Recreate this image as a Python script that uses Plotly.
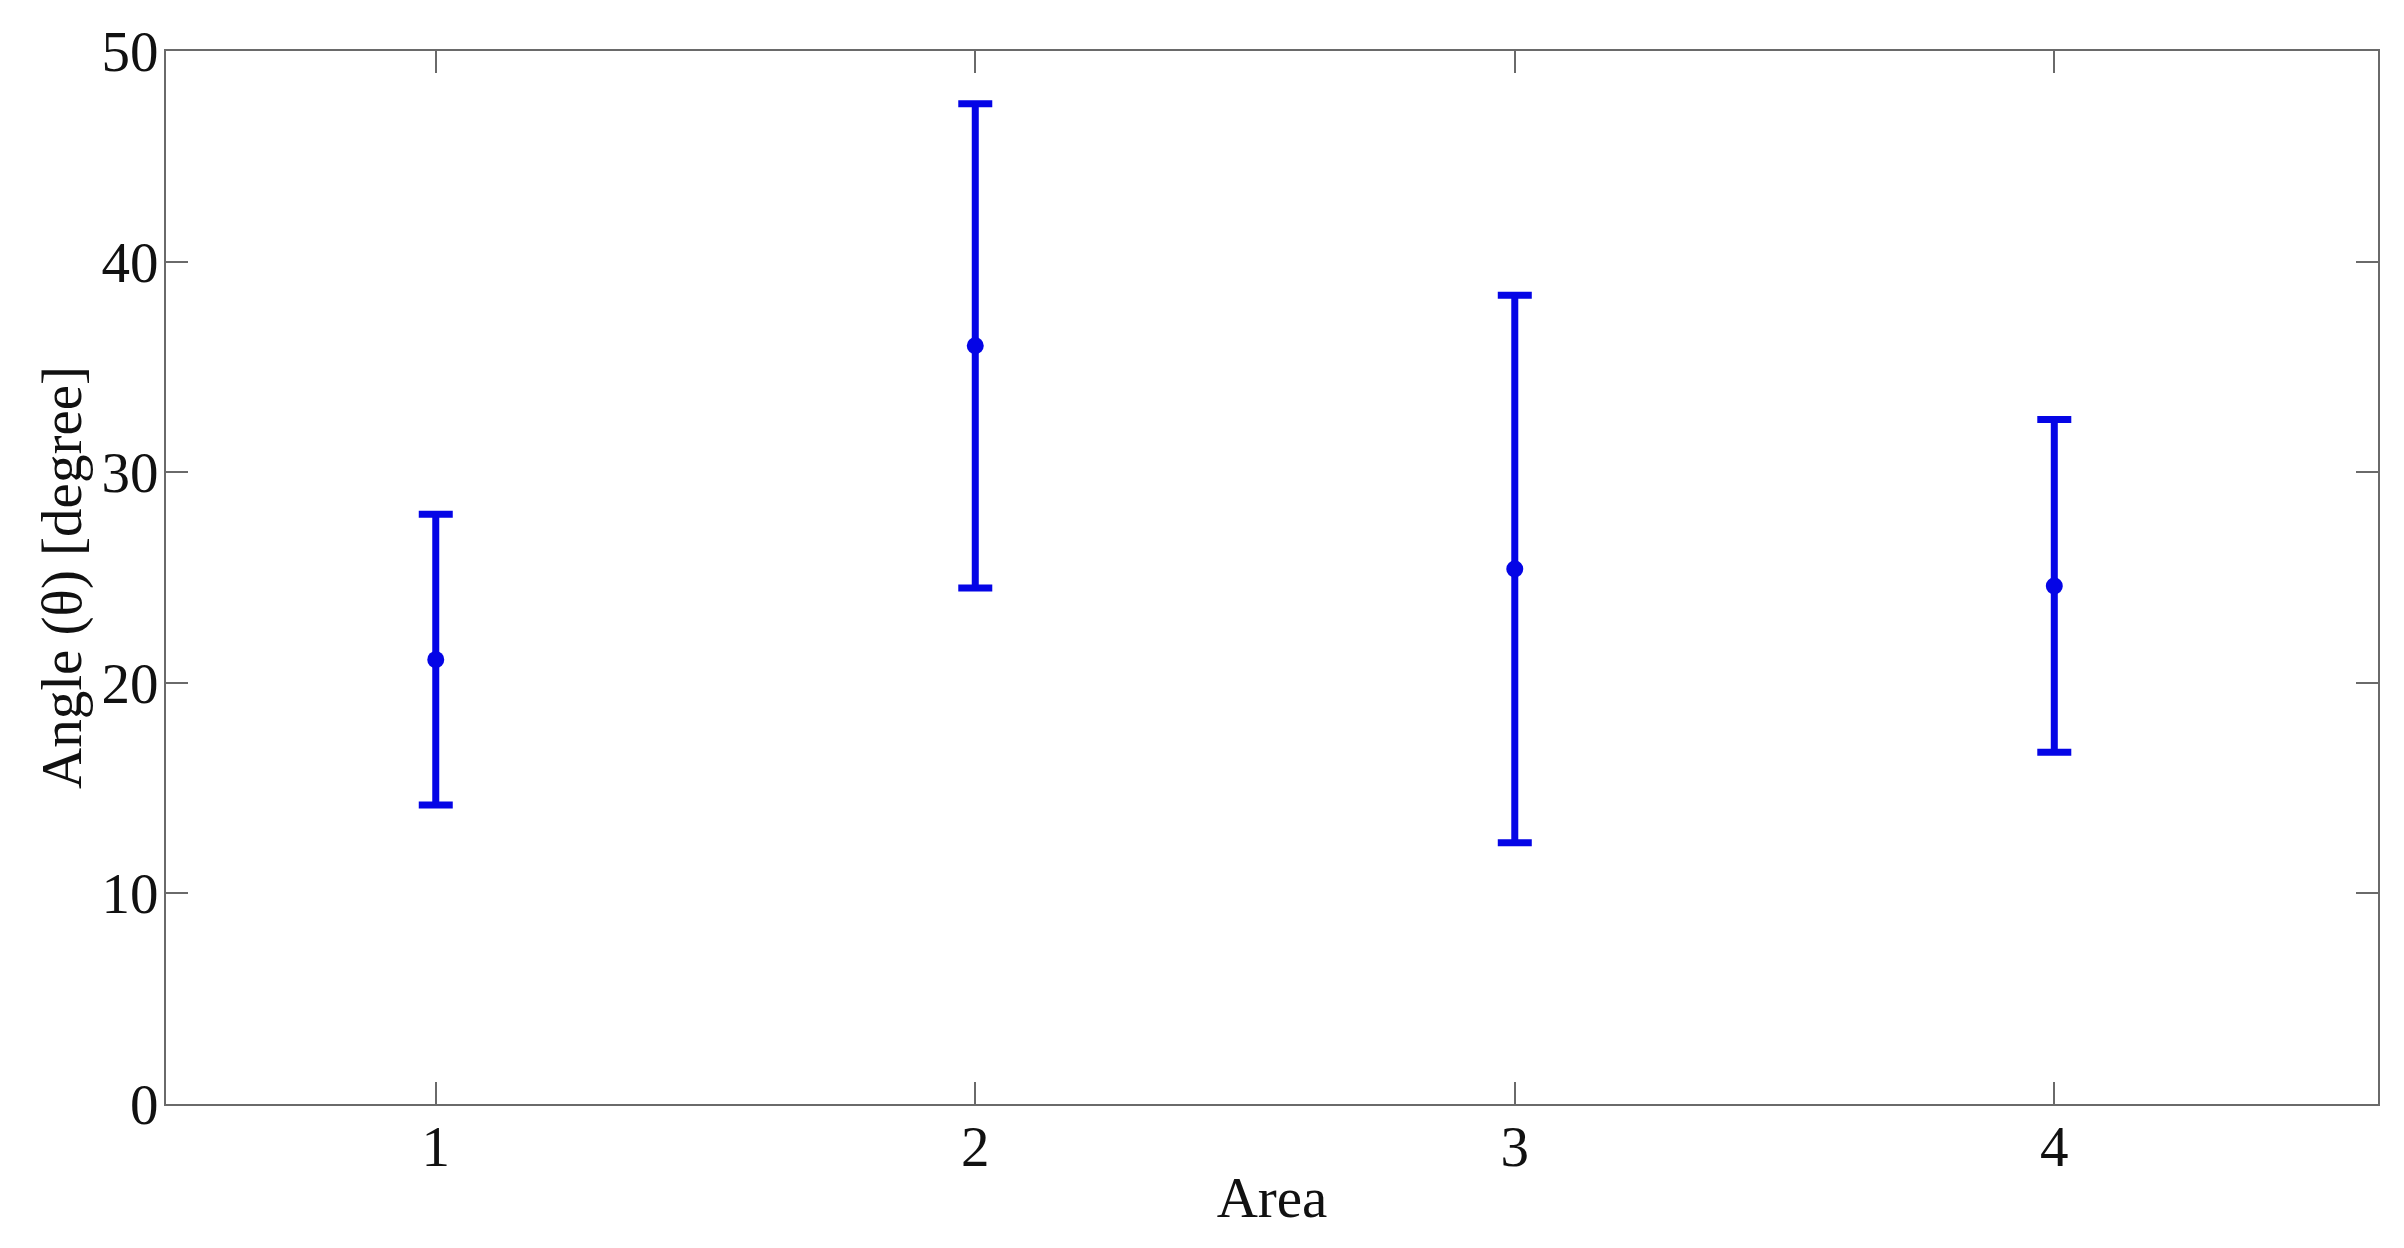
import plotly.graph_objects as go

areas = [1, 2, 3, 4]
mean_angle = [21.1, 36.0, 25.4, 24.6]
err_angle = [6.9, 11.5, 13.0, 7.9]
y_ticks = [0, 10, 20, 30, 40, 50]
x_ticks = [1, 2, 3, 4]

blue = "#0505e6"
axis_col = "#6a6a6a"
font = dict(family="Liberation Serif", size=57, color="#111111")

fig = go.Figure()
fig.add_trace(go.Scatter(
    x=areas, y=mean_angle, mode="markers",
    marker=dict(color=blue, size=17),
    error_y=dict(type="data", array=err_angle, visible=True,
                 color=blue, thickness=7, width=17),
    showlegend=False,
))

fig.update_layout(
    width=2404, height=1248,
    margin=dict(l=158, r=34, t=40, b=152),
    paper_bgcolor="white", plot_bgcolor="white",
    font=font,
    xaxis=dict(range=[0.5, 4.6], tickvals=x_ticks, ticktext=[str(v) for v in x_ticks],
               showgrid=False, zeroline=False, showline=True, linecolor=axis_col,
               linewidth=2, mirror="ticks", ticks="inside", ticklen=22,
               tickcolor=axis_col, tickwidth=2, tickfont=font, ticklabelstandoff=-8,
               title=dict(text="Area", font=font, standoff=0)),
    yaxis=dict(range=[0, 50], tickvals=y_ticks, ticktext=[str(v) for v in y_ticks],
               showgrid=False, zeroline=False, showline=True, linecolor=axis_col,
               linewidth=2, mirror="ticks", ticks="inside", ticklen=22,
               tickcolor=axis_col, tickwidth=2, tickfont=font, ticklabelstandoff=-6,
               title=dict(text="Angle (θ) [degree]", font=font, standoff=2)),
)

fig.write_html("out.html")
